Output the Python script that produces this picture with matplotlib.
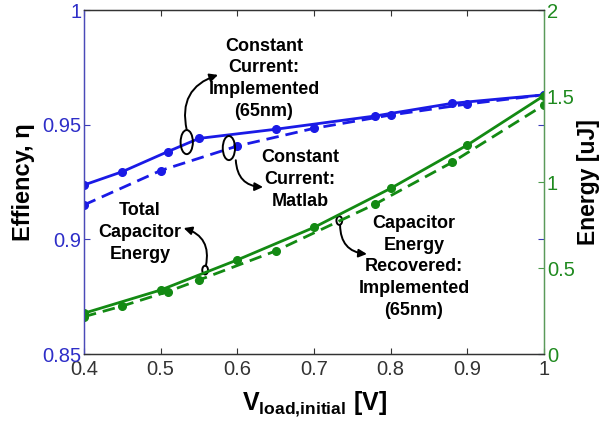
import matplotlib
matplotlib.use("Agg")
import matplotlib.pyplot as plt
from matplotlib.patches import Ellipse

plt.rcParams['font.family'] = ['Liberation Sans', 'DejaVu Sans']
plt.rcParams['mathtext.fontset'] = 'custom'
plt.rcParams['mathtext.bf'] = 'Liberation Sans:bold'
plt.rcParams['mathtext.rm'] = 'Liberation Sans'

# ---- data ----
v_impl = [0.40, 0.45, 0.509, 0.55, 0.65, 0.78, 0.88, 1.00]
eff_impl = [0.9237, 0.9295, 0.9382, 0.9440, 0.9480, 0.9538, 0.9593, 0.9630]
v_sim = [0.4, 0.5, 0.6, 0.7, 0.8, 0.9, 1.0]
eff_sim = [0.9150, 0.9300, 0.9407, 0.9484, 0.9542, 0.9590, 0.9630]
energy_total = [0.237, 0.372, 0.547, 0.736, 0.963, 1.215, 1.502]
energy_recovered = [0.217, 0.279, 0.362, 0.430, 0.599, 0.872, 1.114, 1.448]

xticks = [0.4, 0.5, 0.6, 0.7, 0.8, 0.9, 1.0]
xticklabels = ['0.4', '0.5', '0.6', '0.7', '0.8', '0.9', '1']
lticks = [0.85, 0.9, 0.95, 1.0]
lticklabels = ['0.85', '0.9', '0.95', '1']
rticks = [0, 0.5, 1, 1.5, 2]
rticklabels = ['0', '0.5', '1', '1.5', '2']

BLUE = '#1a1ae6'
BLUE_TXT = '#2e2ec8'
GREEN = '#138a13'
GREEN_TXT = '#1f8a1f'
DARK = '#333333'

fig = plt.figure(figsize=(6.13, 4.24), dpi=100)
ax = fig.add_axes([84/613, 1-354/424, (544-84)/613, (354-10)/424])
ax2 = ax.twinx()

ax.plot(v_impl, eff_impl, '-o', color=BLUE, lw=2.0, ms=5.5, zorder=3)
ax.plot(v_sim, eff_sim, '--o', color=BLUE, lw=2.0, ms=5.5, dashes=(4.5, 2.5), zorder=3)
ax2.plot(v_sim, energy_total, '-o', color=GREEN, lw=2.0, ms=5.5)
ax2.plot(v_impl, energy_recovered, '--o', color=GREEN, lw=2.0, ms=5.5, dashes=(4.5, 2.5))

ax.set_xlim(0.4, 1.0)
ax.set_ylim(0.85, 1.0)
ax2.set_ylim(0, 2)
ax.set_xticks(xticks)
ax.set_xticklabels(xticklabels)
ax.set_yticks(lticks)
ax.set_yticklabels(lticklabels)
ax2.set_yticks(rticks)
ax2.set_yticklabels(rticklabels)

ax.tick_params(axis='x', direction='in', length=4, top=True, labelsize=14.5,
               colors=DARK, pad=4)
ax.tick_params(axis='y', direction='in', length=4, right=True, labelsize=14.5,
               colors='#3a3ab8', labelcolor=BLUE_TXT, pad=2)
ax2.tick_params(axis='y', direction='in', length=4, labelsize=14.5,
                colors='#4a9a4a', labelcolor=GREEN_TXT, pad=2)

for a in (ax, ax2):
    a.spines['top'].set_color(DARK)
    a.spines['bottom'].set_color(DARK)
    a.spines['left'].set_color('#4a4ab8')
    a.spines['right'].set_color('#5a9a5a')
    for s in a.spines.values():
        s.set_linewidth(0.9)

ax.set_ylabel('Effiency, η', fontsize=17, fontweight='bold', labelpad=5)
ax2.set_ylabel('Energy [uJ]', fontsize=16.5, fontweight='bold', labelpad=2)
ax.set_xlabel(r'$\mathbf{V}_{\mathbf{load{,}initial}}$ [V]', fontsize=18,
              fontweight='bold', labelpad=8)

# ---- annotations (left-axis data coordinates) ----
tkw = dict(fontsize=13, fontweight='bold', ha='center', va='center',
           linespacing=1.37, color='black', zorder=5)
ax.text(0.6348, 0.9700, 'Constant\nCurrent:\nImplemented\n(65nm)', **tkw)
ax.text(0.6817, 0.9262, 'Constant\nCurrent:\nMatlab', **tkw)
ax.text(0.4730, 0.9030, 'Total\nCapacitor\nEnergy', **tkw)
ax.text(0.8304, 0.8880, 'Capacitor\nEnergy\nRecovered:\nImplemented\n(65nm)', **tkw)

ekw = dict(fill=False, ec='black', lw=1.4, zorder=6)
ax.add_patch(Ellipse((0.534, 0.9424), 0.0160, 0.0105, **ekw))
ax.add_patch(Ellipse((0.589, 0.9398), 0.0160, 0.0105, **ekw))
ax.add_patch(Ellipse((0.558, 0.8866), 0.0075, 0.0038, **ekw))
ax.add_patch(Ellipse((0.733, 0.9082), 0.0075, 0.0038, **ekw))

akw = dict(arrowstyle='-|>', color='black', lw=1.4, mutation_scale=12,
           shrinkA=0, shrinkB=0)
ax.annotate('', xy=(0.5748, 0.9717), xytext=(0.534, 0.9477),
            arrowprops=dict(connectionstyle='arc3,rad=-0.45', **akw), zorder=6)
ax.annotate('', xy=(0.6335, 0.9228), xytext=(0.598, 0.9345),
            arrowprops=dict(connectionstyle='arc3,rad=0.45', **akw), zorder=6)
ax.annotate('', xy=(0.530, 0.9049), xytext=(0.559, 0.8885),
            arrowprops=dict(connectionstyle='arc3,rad=0.45', **akw), zorder=6)
ax.annotate('', xy=(0.769, 0.8936), xytext=(0.734, 0.9063),
            arrowprops=dict(connectionstyle='arc3,rad=0.45', **akw), zorder=6)

fig.savefig('out.png', dpi=100)
